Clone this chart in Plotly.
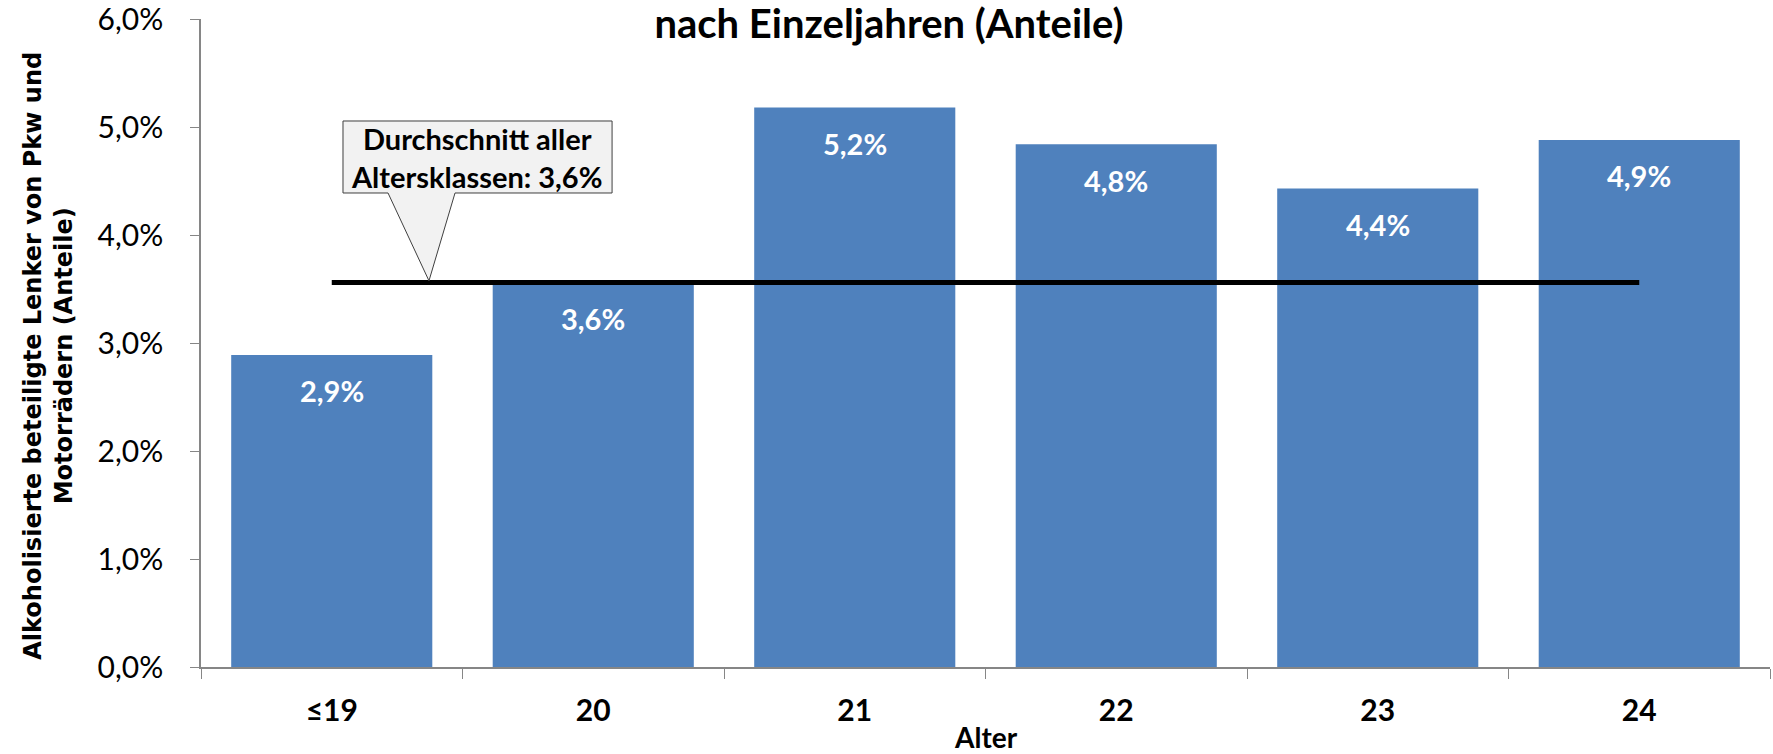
import plotly.graph_objects as go

alter = ['≤19', '20', '21', '22', '23', '24']
anteil = [0.0289, 0.0356, 0.0518, 0.0484, 0.0443, 0.0488]
durchschnitt = 0.0356
y_ticks = [0, 0.01, 0.02, 0.03, 0.04, 0.05, 0.06]

blau = '#4F81BD'
schrift = 'Lato'

def pct(v):
    return f'{v*100:.1f}%'.replace('.', ',')

fig = go.Figure()
fig.add_bar(x=alter, y=anteil, marker_color=blau, marker_line_width=0,
            showlegend=False, hoverinfo='skip')
# Durchschnittslinie von der ersten bis zur letzten Kategorie
fig.add_scatter(x=[alter[0], alter[-1]], y=[durchschnitt, durchschnitt], mode='lines',
                line=dict(color='black', width=5), showlegend=False, hoverinfo='skip')

# Datenbeschriftungen innen oben (x als Kategorienindex)
for i, v in enumerate(anteil):
    fig.add_annotation(x=i, y=v, text='<b>' + pct(v) + '</b>', showarrow=False,
                       yshift=-36, font=dict(family=schrift, size=29, color='white'))

# Sprechblase fuer den Durchschnitt
fig.add_shape(type='path', xref='paper', yref='paper',
              path='M 0.0905 0.8426 L 0.2620 0.8426 L 0.2620 0.7315 L 0.1619 0.7315 '
                   'L 0.1453 0.5960 L 0.1192 0.7315 L 0.0905 0.7315 Z',
              fillcolor='#F2F2F2', line=dict(color='#3F3F3F', width=1))
fig.add_annotation(xref='paper', yref='paper', x=0.1759, y=0.787,
                   xanchor='center', yanchor='middle',
                   text='<b>Durchschnitt aller<br>Altersklassen: ' + pct(durchschnitt) + '</b>',
                   showarrow=False, align='center',
                   font=dict(family=schrift, size=29, color='black'))

# Achsentitel
fig.add_annotation(xref='paper', yref='paper', x=-0.097, y=0.48,
                   xanchor='center', yanchor='middle', textangle=-90, showarrow=False,
                   text='<b>Alkoholisierte beteiligte Lenker von Pkw und<br>Motorrädern (Anteile)</b>',
                   font=dict(family='DejaVu Sans', size=24, color='black'))
fig.add_annotation(xref='paper', yref='paper', x=0.5, y=-0.108,
                   xanchor='center', yanchor='middle', showarrow=False,
                   text='<b>Alter</b>', font=dict(family=schrift, size=28, color='black'))

fig.update_layout(
    width=1773, height=754,
    margin=dict(l=201, r=3, t=19, b=87),
    plot_bgcolor='white', paper_bgcolor='white',
    bargap=0.231,
    title=dict(text='<b>nach Einzeljahren (Anteile)</b>', x=0.5014, xref='container',
               xanchor='center', y=0.968, yref='container', yanchor='middle',
               font=dict(family=schrift, size=40, color='black')),
    xaxis=dict(type='category', range=[-0.5, 5.5], automargin=False,
               showline=True, linecolor='#868686', linewidth=1.5,
               ticks='outside', tickson='boundaries', ticklen=10, tickcolor='#868686',
               ticklabelstandoff=16,
               tickfont=dict(family=schrift, size=30, color='black', weight='bold')),
    yaxis=dict(range=[0, 0.06], tickvals=y_ticks, ticktext=[pct(t) for t in y_ticks],
               automargin=False, showline=True, linecolor='#868686', linewidth=1.5,
               showgrid=False, zeroline=False, ticks='outside', ticklen=9,
               tickcolor='#868686', ticklabelstandoff=21, ticklabeloverflow='allow',
               tickfont=dict(family=schrift, size=30, color='black')),
)

# Seitenrand des Browsers entfernen, damit die Grafik bei 0,0 beginnt
fig.write_html('out.html', config={'displayModeBar': False},
               post_script="document.body.style.margin='0';")
